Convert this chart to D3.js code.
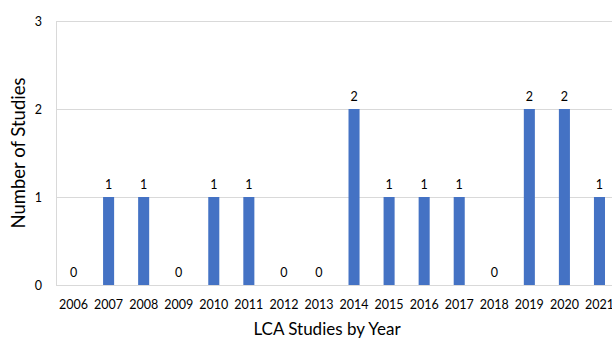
<!DOCTYPE html>
<html>
<head>
<meta charset="utf-8">
<script src="https://cdn.jsdelivr.net/npm/d3@7"></script>
<style>
  body { margin: 0; background: #fff; }
  svg { display: block; font-family: Lato, "Liberation Sans", sans-serif; }
</style>
</head>
<body>
<svg id="chart" width="612" height="338"></svg>
<script>
var years = ['2006', '2007', '2008', '2009', '2010', '2011', '2012', '2013',
             '2014', '2015', '2016', '2017', '2018', '2019', '2020', '2021'];
var studies = [0, 1, 1, 0, 1, 1, 0, 0, 2, 1, 1, 1, 0, 2, 2, 1];
var yTicks = [0, 1, 2, 3];

var svg = d3.select('#chart');
var margin = { top: 21, left: 56, bottom: 53 };
var plotW = 561;
var plotH = 338 - margin.top - margin.bottom;

var x = d3.scaleBand()
    .domain(years)
    .range([margin.left, margin.left + plotW])
    .paddingInner(0.685)
    .paddingOuter(0.3425);

var y = d3.scaleLinear()
    .domain([0, 3])
    .range([margin.top + plotH, margin.top]);

// gridlines
svg.append('g')
    .selectAll('line')
    .data(yTicks)
    .enter().append('line')
    .attr('x1', margin.left)
    .attr('x2', margin.left + plotW)
    .attr('y1', function(d) { return Math.round(y(d)) + 0.5; })
    .attr('y2', function(d) { return Math.round(y(d)) + 0.5; })
    .attr('stroke', '#d9d9d9')
    .attr('stroke-width', 1);

// left axis line
svg.append('line')
    .attr('x1', margin.left + 0.5)
    .attr('x2', margin.left + 0.5)
    .attr('y1', y(3))
    .attr('y2', y(0))
    .attr('stroke', '#d9d9d9');

// bars
svg.append('g')
    .selectAll('rect')
    .data(studies)
    .enter().append('rect')
    .attr('x', function(d, i) { return x(years[i]); })
    .attr('width', x.bandwidth())
    .attr('y', function(d) { return y(d); })
    .attr('height', function(d) { return y(0) - y(d); })
    .attr('fill', '#4472c4');

// data labels
svg.append('g')
    .selectAll('text')
    .data(studies)
    .enter().append('text')
    .attr('x', function(d, i) { return x(years[i]) + x.bandwidth() / 2; })
    .attr('y', function(d) { return y(d) - 8; })
    .attr('text-anchor', 'middle')
    .attr('font-size', 12.5)
    .attr('fill', '#000')
    .text(function(d) { return d; });

// y tick labels
svg.append('g')
    .selectAll('text')
    .data(yTicks)
    .enter().append('text')
    .attr('x', 42)
    .attr('y', function(d) { return y(d) + 4.5; })
    .attr('text-anchor', 'end')
    .attr('font-size', 12.5)
    .attr('fill', '#000')
    .text(function(d) { return d; });

// x tick labels (last one runs off the right edge, as in the original)
svg.append('g')
    .selectAll('text')
    .data(years)
    .enter().append('text')
    .attr('x', function(d) { return x(d) + x.bandwidth() / 2; })
    .attr('y', 309)
    .attr('text-anchor', 'middle')
    .attr('font-size', 12.5)
    .attr('fill', '#000')
    .text(function(d) { return d; });

// axis titles
svg.append('text')
    .attr('x', 327)
    .attr('y', 335)
    .attr('text-anchor', 'middle')
    .attr('font-size', 17)
    .attr('fill', '#000')
    .text('LCA Studies by Year');

svg.append('text')
    .attr('transform', 'translate(25,153) rotate(-90)')
    .attr('text-anchor', 'middle')
    .attr('font-size', 18.5)
    .attr('fill', '#000')
    .text('Number of Studies');
</script>
</body>
</html>
